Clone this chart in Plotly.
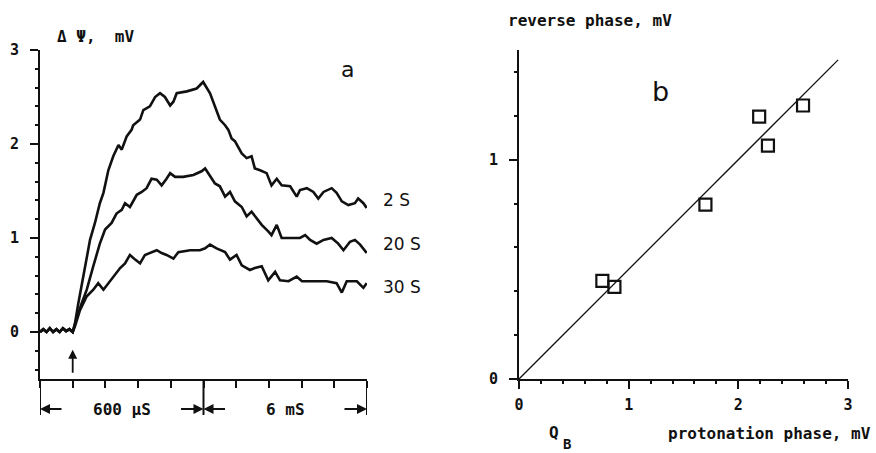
import plotly.graph_objects as go

# ---------------- Panel a data (time axis in plot units: 0-5 = 600 µs, 5-10 = 6 ms) -------------
base_x = [0.0, 0.1, 0.2, 0.3, 0.4, 0.5, 0.6, 0.7, 0.8, 0.9, 1.0]
base_y = [0.0, 0.03, 0.0, 0.04, 0.0, 0.03, 0.0, 0.04, 0.01, 0.03, 0.0]

s2_x = [1.07, 1.17, 1.33, 1.53, 1.68, 1.83, 1.94, 2.09, 2.24, 2.40, 2.50, 2.65, 2.80, 2.85, 3.06,
        3.16, 3.36, 3.52, 3.67, 3.82, 3.98, 4.08, 4.18, 4.49, 4.79, 4.99, 5.20, 5.40, 5.50, 5.66,
        5.76, 5.86, 5.96, 6.17, 6.32, 6.47, 6.57, 6.73, 6.93, 7.08, 7.24, 7.39, 7.65, 7.85, 7.95,
        8.16, 8.36, 8.51, 8.67, 8.92, 9.07, 9.23, 9.43, 9.63, 9.73, 9.89, 9.99]
s2_y = [0.09, 0.30, 0.62, 0.98, 1.16, 1.37, 1.48, 1.72, 1.87, 1.99, 1.94, 2.08, 2.15, 2.20, 2.26,
        2.36, 2.40, 2.50, 2.54, 2.50, 2.41, 2.45, 2.54, 2.56, 2.59, 2.66, 2.54, 2.36, 2.26, 2.20,
        2.15, 2.06, 2.03, 1.90, 1.85, 1.87, 1.74, 1.72, 1.69, 1.56, 1.63, 1.56, 1.55, 1.44, 1.51,
        1.53, 1.49, 1.42, 1.49, 1.53, 1.48, 1.39, 1.35, 1.37, 1.42, 1.37, 1.32]

s20_x = [1.07, 1.27, 1.43, 1.63, 1.83, 1.99, 2.19, 2.34, 2.50, 2.60, 2.75, 2.96, 3.11, 3.26, 3.41,
         3.57, 3.72, 3.87, 3.98, 4.13, 4.38, 4.69, 4.94, 5.05, 5.15, 5.35, 5.50, 5.66, 5.81, 5.96,
         6.17, 6.32, 6.47, 6.63, 6.78, 6.98, 7.08, 7.24, 7.39, 7.65, 7.95, 8.11, 8.26, 8.46, 8.67,
         8.92, 9.12, 9.28, 9.48, 9.63, 9.79, 9.99]
s20_y = [0.09, 0.30, 0.45, 0.70, 0.94, 1.09, 1.16, 1.26, 1.30, 1.37, 1.33, 1.46, 1.49, 1.53, 1.63,
         1.62, 1.56, 1.63, 1.69, 1.65, 1.65, 1.67, 1.71, 1.74, 1.69, 1.58, 1.55, 1.44, 1.49, 1.39,
         1.33, 1.23, 1.28, 1.21, 1.14, 1.07, 1.03, 1.14, 1.00, 1.00, 1.00, 1.03, 0.98, 0.94, 0.98,
         1.00, 0.94, 0.87, 0.96, 0.98, 0.93, 0.84]

s30_x = [1.07, 1.22, 1.43, 1.63, 1.78, 1.94, 2.14, 2.29, 2.45, 2.60, 2.75, 2.91, 3.06, 3.21, 3.41,
         3.57, 3.72, 3.87, 4.08, 4.23, 4.59, 4.89, 5.05, 5.20, 5.40, 5.66, 5.81, 6.01, 6.17, 6.42,
         6.57, 6.78, 6.98, 7.19, 7.34, 7.60, 7.85, 8.01, 8.36, 8.77, 9.07, 9.23, 9.38, 9.69, 9.89, 9.99]
s30_y = [0.06, 0.23, 0.38, 0.45, 0.52, 0.45, 0.54, 0.62, 0.68, 0.73, 0.82, 0.77, 0.73, 0.82, 0.85,
         0.87, 0.84, 0.82, 0.78, 0.85, 0.87, 0.87, 0.89, 0.93, 0.89, 0.85, 0.77, 0.82, 0.71, 0.66,
         0.68, 0.70, 0.55, 0.64, 0.55, 0.54, 0.59, 0.54, 0.54, 0.54, 0.52, 0.42, 0.54, 0.54, 0.47, 0.52]

curve_labels = ["2 S", "20 S", "30 S"]
label_y = [1.40, 0.94, 0.48]

a_yticks = [0, 1, 2, 3]
a_yticklabels = ["0", "1", "2", "3"]
a_xrange = [0, 10]
a_yrange = [-0.5, 3]

# ---------------- Panel b data -------------
qb_protonation = [0.76, 0.87, 1.70, 2.19, 2.27, 2.59]
reverse_phase = [0.447, 0.42, 0.795, 1.196, 1.064, 1.247]
fit_slope = 0.5
fit_x_end = 2.91

b_xticks = [0, 1, 2, 3]
b_yticks = [0, 1]

FONT = "DejaVu Sans Mono"
BLACK = "#111111"

W, H = 876, 453
def px(x):
    return x / W
def py(y):
    return (H - y) / H

ax_dom = [px(40), px(367)]
ay_dom = [py(379), py(50)]
bx_dom = [px(519), px(848)]

def ax_paper(x):
    return ax_dom[0] + (x - a_xrange[0]) / (a_xrange[1] - a_xrange[0]) * (ax_dom[1] - ax_dom[0])
def ay_paper(y):
    return ay_dom[0] + (y - a_yrange[0]) / (a_yrange[1] - a_yrange[0]) * (ay_dom[1] - ay_dom[0])

fig = go.Figure()

for xs, ys in [(s2_x, s2_y), (s20_x, s20_y), (s30_x, s30_y)]:
    fig.add_trace(go.Scatter(x=base_x + xs, y=base_y + ys, mode="lines",
                             line=dict(color=BLACK, width=2.6),
                             xaxis="x", yaxis="y", showlegend=False, hoverinfo="skip"))

fig.add_trace(go.Scatter(x=[0, fit_x_end], y=[0, fit_slope * fit_x_end], mode="lines",
                         line=dict(color=BLACK, width=1.3), xaxis="x2", yaxis="y2",
                         showlegend=False, hoverinfo="skip"))
fig.add_trace(go.Scatter(x=qb_protonation, y=reverse_phase, mode="markers",
                         marker=dict(symbol="square-open", size=12, color=BLACK,
                                     line=dict(width=2.2, color=BLACK)),
                         xaxis="x2", yaxis="y2", showlegend=False, hoverinfo="skip"))

tickfont = dict(family=FONT, size=15, color=BLACK, weight="bold")
minor_ticks = dict(dtick=0.2, tick0=0, ticks="outside", ticklen=3, tickcolor=BLACK, tickwidth=1.5)
axis_common = dict(showgrid=False, zeroline=False, showline=True, linecolor=BLACK, linewidth=2,
                   ticks="outside", tickcolor=BLACK, tickwidth=2, tickfont=tickfont,
                   automargin=False)

fig.update_layout(
    width=W, height=H, margin=dict(l=0, r=0, t=0, b=0, autoexpand=False),
    paper_bgcolor="white", plot_bgcolor="white",
    xaxis=dict(domain=ax_dom, range=a_xrange, tickvals=list(range(11)), ticklen=7,
               showticklabels=False, anchor="y", **axis_common),
    yaxis=dict(domain=ay_dom, range=a_yrange, tickvals=a_yticks, ticktext=a_yticklabels,
               ticklen=8, ticklabelstandoff=8, anchor="x", minor=minor_ticks, **axis_common),
    xaxis2=dict(domain=bx_dom, range=[0, 3], tickvals=b_xticks, ticklen=8, ticklabelstandoff=3,
                anchor="y2", minor=minor_ticks, **axis_common),
    yaxis2=dict(domain=ay_dom, range=[0, 1.5], tickvals=b_yticks, ticklen=8, ticklabelstandoff=8,
                anchor="x2", minor=minor_ticks, **axis_common),
)

ann_font = dict(family=FONT, size=16, color=BLACK, weight="bold")
anns = []
for lab, ly in zip(curve_labels, label_y):
    anns.append(dict(x=px(381), y=ay_paper(ly), xref="paper", yref="paper", text=lab,
                     showarrow=False, xanchor="left", yanchor="middle",
                     font=dict(family="DejaVu Sans", size=17, color=BLACK)))
anns.append(dict(x=9.39, y=2.79, xref="x", yref="y", text="a", showarrow=False,
                 font=dict(family="DejaVu Sans", size=22, color=BLACK)))
anns.append(dict(x=1.29, y=1.31, xref="x2", yref="y2", text="b", showarrow=False,
                 font=dict(family="DejaVu Sans", size=27, color=BLACK)))
anns.append(dict(x=px(55), y=py(37), xref="paper", yref="paper", text="\u0394 \u03a8,  mV",
                 showarrow=False, xanchor="left", yanchor="middle", font=ann_font))
anns.append(dict(x=px(506), y=py(20), xref="paper", yref="paper", text="reverse phase, mV",
                 showarrow=False, xanchor="left", yanchor="middle", font=ann_font))
anns.append(dict(x=px(554), y=py(432), xref="paper", yref="paper", text="Q",
                 showarrow=False, xanchor="center", yanchor="middle", font=ann_font))
anns.append(dict(x=px(567), y=py(444), xref="paper", yref="paper", text="B",
                 showarrow=False, xanchor="center", yanchor="middle",
                 font=dict(family=FONT, size=14, color=BLACK, weight="bold")))
anns.append(dict(x=px(873), y=py(433), xref="paper", yref="paper", text="protonation phase, mV",
                 showarrow=False, xanchor="right", yanchor="middle", font=ann_font))
# flash arrow
anns.append(dict(x=1, y=-0.19, ax=1, ay=-0.45, xref="x", yref="y", axref="x", ayref="y",
                 text="", showarrow=True, arrowhead=2, arrowsize=1, arrowwidth=1.8, arrowcolor=BLACK))
# time-scale brackets
bracket_py = py(409)
anns.append(dict(x=ax_paper(2.5), y=bracket_py, xref="paper", yref="paper", text="600 \u00b5S",
                 showarrow=False, xanchor="center", yanchor="middle", font=ann_font))
anns.append(dict(x=ax_paper(7.5), y=bracket_py, xref="paper", yref="paper", text="6 mS",
                 showarrow=False, xanchor="center", yanchor="middle", font=ann_font))
for head, tail_off in [(0, 23), (5, -24), (5, 23), (10, -24)]:
    anns.append(dict(x=ax_paper(head), y=bracket_py, ax=tail_off, ay=0, xref="paper", yref="paper",
                     text="", showarrow=True, arrowhead=2, arrowsize=1, arrowwidth=2,
                     arrowcolor=BLACK))
fig.update_layout(annotations=anns)

shapes = []
for xv in [0, 5, 10]:
    shapes.append(dict(type="line", xref="x", yref="paper", x0=xv, x1=xv, y0=py(379), y1=py(415),
                       line=dict(color=BLACK, width=2)))
fig.update_layout(shapes=shapes)

post = (
    "document.documentElement.style.margin='0';"
    "document.body.style.margin='0';"
    "document.documentElement.style.overflow='hidden';"
    "document.body.style.overflow='hidden';"
)
fig.write_html("out.html", post_script=post, config={"displayModeBar": False})
